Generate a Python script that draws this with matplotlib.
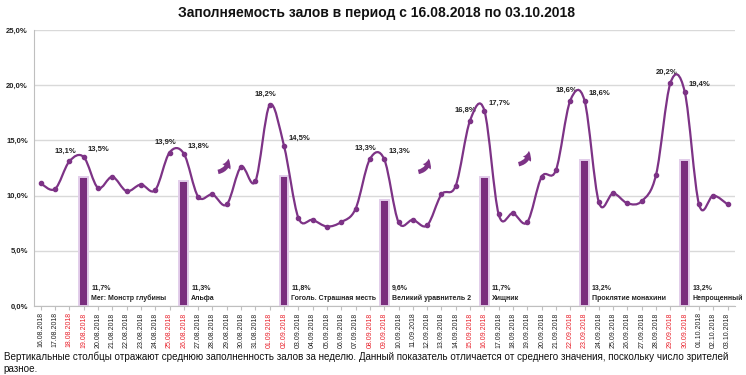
import matplotlib
matplotlib.use("Agg")
import matplotlib.pyplot as plt
import numpy as np
from matplotlib.path import Path
from matplotlib.patches import PathPatch, FancyArrowPatch
from matplotlib.ticker import FuncFormatter, MultipleLocator

plt.rcParams['font.family'] = ['Liberation Sans', 'DejaVu Sans']

# Daily occupancy, %
dates = ["16.08.2018", "17.08.2018", "18.08.2018", "19.08.2018", "20.08.2018",
         "21.08.2018", "22.08.2018", "23.08.2018", "24.08.2018", "25.08.2018",
         "26.08.2018", "27.08.2018", "28.08.2018", "29.08.2018", "30.08.2018",
         "31.08.2018", "01.09.2018", "02.09.2018", "03.09.2018", "04.09.2018",
         "05.09.2018", "06.09.2018", "07.09.2018", "08.09.2018", "09.09.2018",
         "10.09.2018", "11.09.2018", "12.09.2018", "13.09.2018", "14.09.2018",
         "15.09.2018", "16.09.2018", "17.09.2018", "18.09.2018", "19.09.2018",
         "20.09.2018", "21.09.2018", "22.09.2018", "23.09.2018", "24.09.2018",
         "25.09.2018", "26.09.2018", "27.09.2018", "28.09.2018", "29.09.2018",
         "30.09.2018", "01.10.2018", "02.10.2018", "03.10.2018"]
daily = [11.1, 10.6, 13.1, 13.5, 10.7, 11.7, 10.4, 11.0, 10.5, 13.9,
         13.8, 9.9, 10.1, 9.2, 12.6, 11.3, 18.2, 14.5, 8.0, 7.8,
         7.2, 7.6, 8.8, 13.3, 13.3, 7.6, 7.8, 7.3, 10.1, 10.9,
         16.8, 17.7, 8.3, 8.4, 7.6, 11.7, 12.3, 18.6, 18.6, 9.4,
         10.2, 9.3, 9.5, 11.9, 20.2, 19.4, 9.2, 10.0, 9.2]

# Weekly averages (bars) on Sundays, with film titles
week_dates = ["19.08.2018", "26.08.2018", "02.09.2018", "09.09.2018",
              "16.09.2018", "23.09.2018", "30.09.2018"]
week_values = [11.7, 11.3, 11.8, 9.6, 11.7, 13.2, 13.2]
films = ["Мег: Монстр глубины", "Альфа", "Гоголь. Страшная месть",
         "Великий уравнитель 2", "Хищник", "Проклятие монахини", "Непрощенный"]

weekend = ["18.08.2018", "19.08.2018", "25.08.2018", "26.08.2018",
           "01.09.2018", "02.09.2018", "08.09.2018", "09.09.2018",
           "15.09.2018", "16.09.2018", "22.09.2018", "23.09.2018",
           "29.09.2018", "30.09.2018"]

# growth arrows placed just before these peaks
arrow_dates = ["01.09.2018", "15.09.2018", "22.09.2018"]
arrow_base = [12.1, 12.1, 12.8]

LINE = "#7d3386"
BAR = "#7a2e7e"
BAR_EDGE = "#e2cdea"
GRID = "#d9d9d9"
TXT = "#222222"

fig = plt.figure(figsize=(7.46, 3.75), dpi=100)
ax = fig.add_axes([0.045, 0.184, 0.94, 0.736])

x = np.arange(len(dates))
idx = {d: i for i, d in enumerate(dates)}
y = np.array(daily)

# weekly bars
bx = [idx[d] for d in week_dates]
ax.bar(bx, week_values, width=0.62, color=BAR, edgecolor=BAR_EDGE,
       linewidth=1.4, zorder=2)
for b, v, name in zip(bx, week_values, films):
    ax.text(b + 0.52, 1.25, f"{v:.1f}%".replace(".", ","), fontsize=5,
            fontweight="bold", color=TXT, va="bottom", ha="left")
    ax.text(b + 0.52, 0.35, name, fontsize=5, fontweight="bold", color=TXT,
            va="bottom", ha="left")

# smoothed line (Excel-like bezier through the points)
verts = [(x[0], y[0])]
codes = [Path.MOVETO]
for i in range(len(x) - 1):
    p0 = np.array([x[max(i - 1, 0)], y[max(i - 1, 0)]])
    p1 = np.array([x[i], y[i]])
    p2 = np.array([x[i + 1], y[i + 1]])
    p3 = np.array([x[min(i + 2, len(x) - 1)], y[min(i + 2, len(x) - 1)]])
    c1 = p1 + (p2 - p0) / 6
    c2 = p2 - (p3 - p1) / 6
    verts += [tuple(c1), tuple(c2), tuple(p2)]
    codes += [Path.CURVE4] * 3
ax.add_patch(PathPatch(Path(verts, codes), facecolor="none", edgecolor=LINE,
                       linewidth=1.6, zorder=4))
ax.plot(x, y, "o", color=LINE, markersize=3, zorder=5)

# value labels on weekend peaks
for d in weekend:
    i = idx[d]
    lab = f"{daily[i]:.1f}%".replace(".", ",")
    if d in weekend[::2]:
        ax.annotate(lab, (i, daily[i]), xytext=(-3, 5), textcoords="offset points",
                    ha="center", va="bottom", fontsize=5.5, fontweight="bold", color=TXT)
    else:
        ax.annotate(lab, (i, daily[i]), xytext=(3, 3), textcoords="offset points",
                    ha="left", va="bottom", fontsize=5.5, fontweight="bold", color=TXT)

# curved growth arrows
for d, yb in zip(arrow_dates, arrow_base):
    i = idx[d]
    a = FancyArrowPatch((i - 3.8, yb), (i - 2.9, yb + 1.5),
                        connectionstyle="arc3,rad=0.5",
                        arrowstyle="simple,head_width=7,head_length=6,tail_width=3.2",
                        color=LINE, zorder=5, linewidth=0)
    ax.add_patch(a)

ax.set_xlim(-0.5, len(dates) - 0.5)
ax.set_ylim(0, 25)
ax.yaxis.set_major_locator(MultipleLocator(5))
ax.yaxis.set_major_formatter(FuncFormatter(lambda v, p: f"{v:.1f}%".replace(".", ",")))
ax.grid(axis="y", color=GRID, linewidth=1, zorder=0)
ax.set_axisbelow(True)
for s in ("top", "right"):
    ax.spines[s].set_visible(False)
for s in ("left", "bottom"):
    ax.spines[s].set_color("#bfbfbf")
ax.tick_params(axis="y", length=0, labelsize=5.5, pad=4, labelcolor=TXT)
for lbl in ax.get_yticklabels():
    lbl.set_fontweight("bold")
ax.set_xticks(x)
ax.set_xticklabels(dates, rotation=90, fontsize=5)
ax.tick_params(axis="x", length=3, color="#bfbfbf", pad=1.5)
for lbl, d in zip(ax.get_xticklabels(), dates):
    lbl.set_color("#e8202a" if d in weekend else TXT)

fig.text(0.505, 0.965, "Заполняемость залов в период с 16.08.2018 по 03.10.2018",
         ha="center", va="center", fontsize=10, fontweight="bold", color="#111111")
fig.text(0.005, 0.033, "Вертикальные столбцы отражают среднюю заполненность залов за неделю. "
         "Данный показатель отличается от среднего значения, поскольку число зрителей\nразное.",
         ha="left", va="center", fontsize=7.1, color="#111111", linespacing=1.3)

fig.savefig("out.png", dpi=100)
